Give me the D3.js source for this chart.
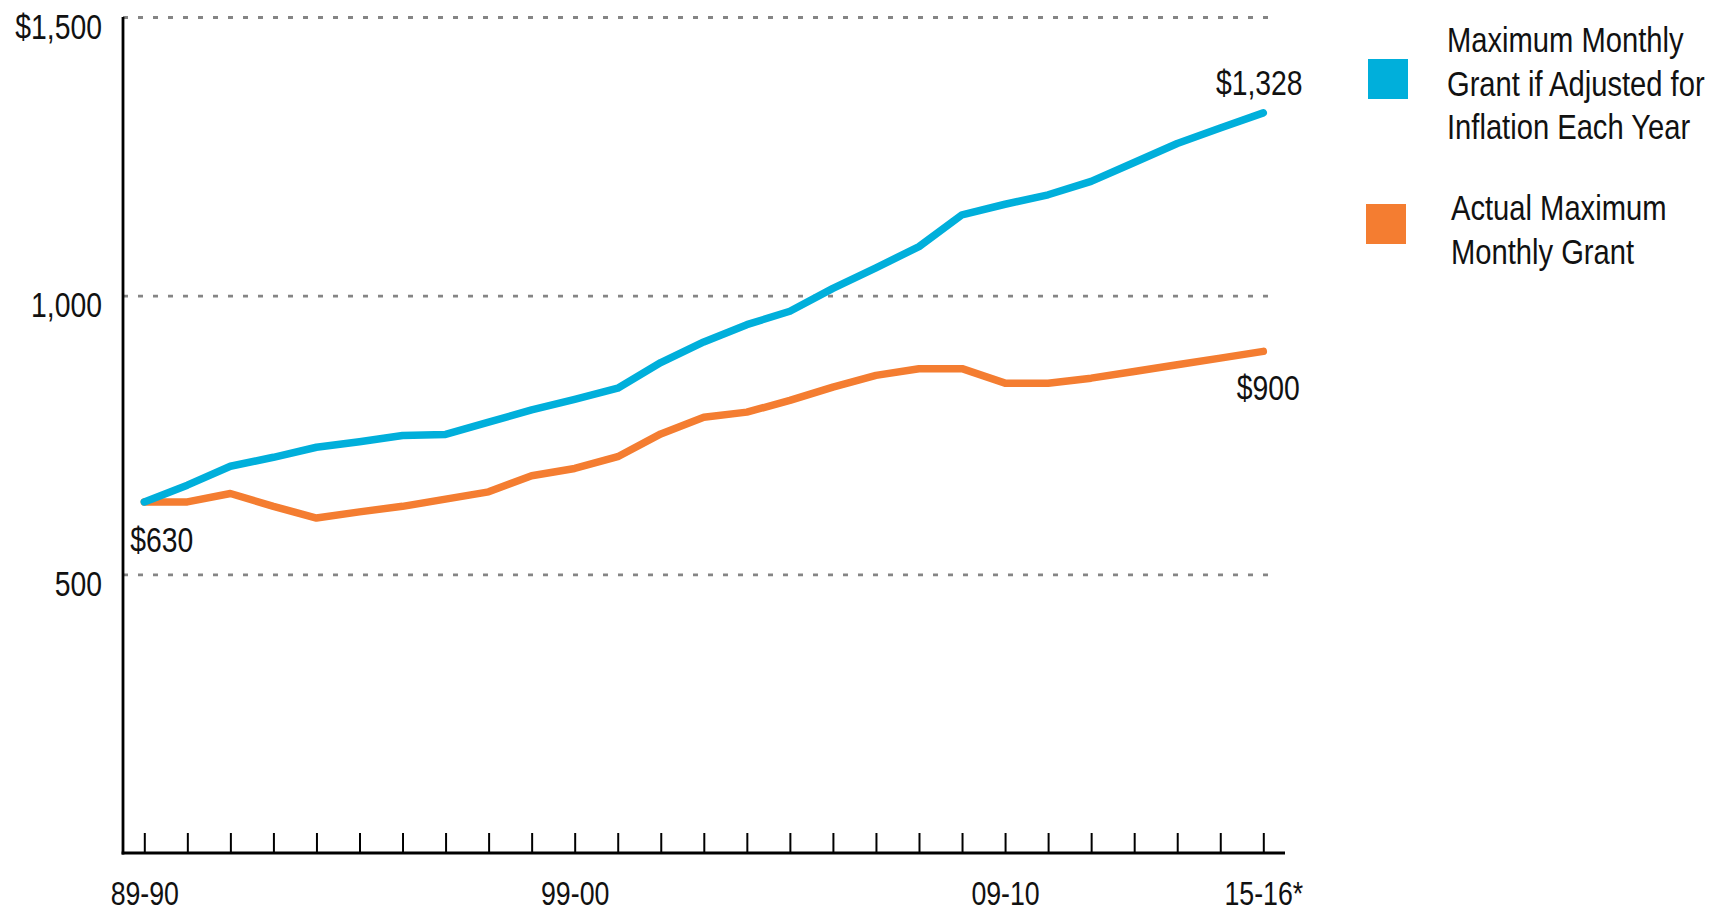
<!DOCTYPE html>
<html lang="en">
  <head>
    <meta charset="UTF-8" />
    <title>Maximum Monthly Grant</title>
    <style>
      body { margin: 0; background: #fff; }
      svg text { font-family: "Liberation Sans", Arial, sans-serif; fill: #111; }
    </style>
  </head>
  <body>
    <div class="chart"></div>

    <script src="https://d3js.org/d3.v7.min.js"></script>

    <script>
      // data =================================================================
      const years = [
        "89-90", "90-91", "91-92", "92-93", "93-94", "94-95", "95-96", "96-97", "97-98",
        "98-99", "99-00", "00-01", "01-02", "02-03", "03-04", "04-05", "05-06", "06-07",
        "07-08", "08-09", "09-10", "10-11", "11-12", "12-13", "13-14", "14-15", "15-16*",
      ];
      const labeledYears = ["89-90", "99-00", "09-10", "15-16*"];

      const inflationAdjusted = [
        630, 660, 694, 710, 728, 738, 749, 751, 773, 795, 814, 834, 880, 917,
        948, 972, 1013, 1050, 1088, 1145, 1164, 1181, 1205, 1239, 1273, 1301, 1328,
      ];
      const actualGrant = [
        630, 630, 645, 622, 601, 612, 622, 635, 648, 677, 690, 711, 752, 782,
        791, 812, 836, 857, 869, 869, 843, 843, 852, 864, 876, 888, 900,
      ];
      const yTicks = [500, 1000, 1500];

      const seriesNames = [
        ["Maximum Monthly", "Grant if Adjusted for", "Inflation Each Year"],
        ["Actual Maximum", "Monthly Grant"],
      ];
      const colors = ["#00afdb", "#f47d31"];

      // svg =================================================================
      const width = 1720;
      const height = 913;
      const svg = d3
        .select(".chart")
        .append("svg")
        .attr("width", width)
        .attr("height", height);

      const x = d3.scaleLinear().domain([0, years.length - 1]).range([144.3, 1263.3]);
      const y = d3.scaleLinear().domain([0, 1500]).range([853, 17]);
      const axisLeft = 123;
      const gridRight = 1277;

      // 格線
      svg
        .append("g")
        .attr("transform", `translate(${axisLeft},0)`)
        .call(d3.axisLeft(y).tickValues(yTicks).tickSize(-(gridRight - axisLeft)).tickFormat(""))
        .call((g) => g.select(".domain").remove())
        .selectAll("line")
        .attr("stroke", "#858585")
        .attr("stroke-width", 2.8)
        .attr("stroke-dasharray", "5 10");

      // y 軸
      const yAxis = svg
        .append("g")
        .attr("transform", `translate(${axisLeft},0)`)
        .call(
          d3
            .axisLeft(y)
            .tickValues(yTicks)
            .tickSize(0)
            .tickPadding(21)
            .tickFormat((d) => (d === 1500 ? "$" : "") + d3.format(",")(d))
        );
      yAxis.select(".domain").remove();
      yAxis.selectAll("text").attr("font-size", 35).attr("dy", "0.6em").attr("fill", "#111");
      yAxis
        .append("line")
        .attr("x1", 0)
        .attr("x2", 0)
        .attr("y1", y(1500))
        .attr("y2", y(0) + 1.5)
        .attr("stroke", "#000")
        .attr("stroke-width", 2.8);

      // x 軸
      const xAxis = svg
        .append("g")
        .attr("transform", `translate(0,${y(0)})`)
        .call(
          d3
            .axisBottom(x)
            .tickValues(d3.range(years.length))
            .tickSize(-20)
            .tickPadding(29)
            .tickFormat((i) => (labeledYears.includes(years[i]) ? years[i] : ""))
        );
      xAxis.select(".domain").remove();
      xAxis.selectAll(".tick line").attr("stroke", "#000").attr("stroke-width", 2);
      xAxis.selectAll("text").attr("font-size", 33).attr("fill", "#111");
      xAxis
        .append("line")
        .attr("x1", axisLeft - 1.4)
        .attr("x2", 1285)
        .attr("stroke", "#000")
        .attr("stroke-width", 2.8);

      // 線
      const line = d3
        .line()
        .x((d, i) => x(i))
        .y((d) => y(d));

      [actualGrant, inflationAdjusted].forEach((values, k) => {
        svg
          .append("path")
          .datum(values)
          .attr("d", line)
          .attr("fill", "none")
          .attr("stroke", colors[1 - k])
          .attr("stroke-width", 7.5)
          .attr("stroke-linejoin", "round")
          .attr("stroke-linecap", "round");
      });

      // 數值標籤
      const last = years.length - 1;
      const fmt = (v) => "$" + d3.format(",")(v);
      svg
        .append("text")
        .attr("x", x(0) - 14)
        .attr("y", y(actualGrant[0]) + 50)
        .attr("font-size", 35)
        .text(fmt(actualGrant[0]));
      svg
        .append("text")
        .attr("x", x(last) - 4)
        .attr("y", y(inflationAdjusted[last]) - 18)
        .attr("text-anchor", "middle")
        .attr("font-size", 35)
        .text(fmt(inflationAdjusted[last]));
      svg
        .append("text")
        .attr("x", x(last) + 5)
        .attr("y", y(actualGrant[last]) + 49)
        .attr("text-anchor", "middle")
        .attr("font-size", 35)
        .text(fmt(actualGrant[last]));

      // 圖例
      const legendPos = [
        { sx: 1368, sy: 59, tx: 1447, ty: 52 },
        { sx: 1366, sy: 204, tx: 1451, ty: 220 },
      ];
      seriesNames.forEach((lines, k) => {
        const p = legendPos[k];
        svg
          .append("rect")
          .attr("x", p.sx)
          .attr("y", p.sy)
          .attr("width", 40)
          .attr("height", 40)
          .attr("fill", colors[k]);
        lines.forEach((t, i) => {
          svg
            .append("text")
            .attr("font-size", 36)
            .attr("x", p.tx)
            .attr("y", p.ty + i * 43.7)
            .text(t);
        });
      });

      // 窄字體：以文字的 x 為中心橫向壓縮
      svg.selectAll("text").each(function () {
        const ax = parseFloat(d3.select(this).attr("x")) || 0;
        d3.select(this).attr("transform", `translate(${ax},0) scale(0.81,1) translate(${-ax},0)`);
      });
    </script>
  </body>
</html>
